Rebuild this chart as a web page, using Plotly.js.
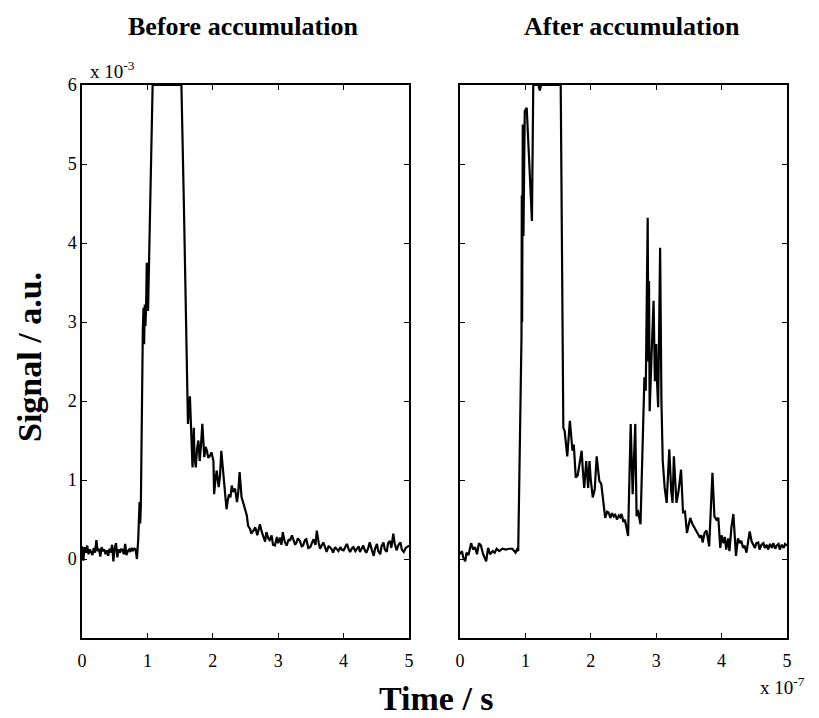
<!DOCTYPE html>
<html>
<head>
<meta charset="utf-8">
<script src="https://cdn.plot.ly/plotly-3.0.1.min.js"></script>
<style>html,body{margin:0;padding:0;background:#fff;}#chart{width:819px;height:718px;}</style>
</head>
<body>
<div id="chart"></div>
<script>
// Time in units of 1e-7 s, signal in units of 1e-3 a.u.
const beforeTime = [0,0.02,0.04,0.06,0.08,0.1,0.12,0.14,0.16,0.18,0.2,0.22,0.24,0.26,0.28,0.3,0.32,0.34,0.36,0.38,0.4,0.42,0.44,0.46,0.48,0.5,0.52,0.54,0.56,0.58,0.6,0.62,0.64,0.66,0.68,0.7,0.72,0.74,0.76,0.78,0.8,0.82,0.84,
0.86,0.88,0.89,0.9,0.93,0.94,0.95,0.96,0.97,0.98,0.99,1.0,1.01,1.08,1.52,
1.56,1.61,1.62,1.65,1.67,1.69,1.71,1.72,1.74,1.76,1.78,1.8,1.82,1.84,1.87,1.89,1.91,1.93,1.96,1.98,2.01,2.02,2.04,2.06,2.09,2.11,2.13,2.16,2.18,2.21,2.23,2.25,2.27,2.29,2.31,2.34,2.37,2.39,2.41,2.44,2.47,2.49,2.52,2.54,2.57,2.59,2.62,2.65,2.68,2.72,2.75,2.77,2.8,2.82,2.85,2.87,2.9,2.92,2.95,2.98,3.0,3.03,3.05,3.07,3.1,3.13,3.16,3.18,3.21,3.23,3.26,3.28,3.3,3.33,3.36,3.38,3.41,3.43,3.46,3.49,3.51,3.54,3.57,3.59,3.62,3.64,3.67,3.69,3.72,3.74,3.77,3.79,3.82,3.84,3.87,3.89,3.92,3.95,3.97,4.0,4.03,4.05,4.08,4.1,4.13,4.15,4.18,4.2,4.23,4.25,4.28,4.3,4.33,4.35,4.38,4.4,4.43,4.46,4.48,4.51,4.53,4.56,4.58,4.61,4.63,4.66,4.68,4.71,4.73,4.76,4.78,4.81,4.84,4.87,4.89,4.92,4.95,4.97,5.0];
const beforeSignal = [0.16,-0.02,0.15,0.08,0.17,0.06,0.12,0.09,0.05,0.14,0.08,0.24,0.1,0.13,0.03,0.15,0.1,0.12,0.06,0.11,0.04,0.13,0.08,0.18,-0.03,0.14,0.2,0.02,0.12,0.08,0.13,0.11,0.06,0.19,0.05,0.1,0.12,0.09,0.14,0.11,0.13,0.12,0.0,
0.25,0.72,0.45,0.68,2.9,3.18,2.72,3.22,2.95,3.18,3.75,3.15,3.14,6,6,
4.4,2.38,1.71,2.06,1.5,1.16,1.66,1.3,1.16,1.4,1.5,1.24,1.45,1.71,1.29,1.42,1.37,1.28,1.31,1.35,1.24,0.82,1.0,1.12,0.91,1.05,1.37,1.08,0.9,0.63,0.75,0.82,0.78,0.93,0.85,0.89,0.72,0.85,1.1,0.78,0.7,0.63,0.55,0.42,0.38,0.32,0.36,0.4,0.3,0.44,0.34,0.3,0.22,0.34,0.26,0.24,0.3,0.18,0.17,0.28,0.2,0.27,0.18,0.34,0.22,0.17,0.25,0.23,0.3,0.25,0.18,0.21,0.26,0.23,0.16,0.17,0.24,0.25,0.14,0.15,0.2,0.25,0.18,0.36,0.2,0.13,0.18,0.21,0.14,0.09,0.16,0.15,0.12,0.08,0.15,0.13,0.1,0.15,0.12,0.11,0.16,0.19,0.12,0.09,0.14,0.15,0.1,0.13,0.16,0.09,0.14,0.17,0.1,0.08,0.15,0.21,0.12,0.04,0.13,0.19,0.1,0.06,0.16,0.21,0.12,0.09,0.2,0.23,0.14,0.32,0.2,0.11,0.18,0.21,0.12,0.09,0.14,0.15,0.17];

const afterTime = [0,0.03,0.05,0.08,0.1,0.13,0.17,0.2,0.23,0.26,0.29,0.32,0.35,0.38,0.4,0.43,0.46,0.5,0.53,0.56,0.6,0.65,0.7,0.75,0.8,0.85,0.87,
0.89,0.92,0.94,0.945,0.95,0.96,0.97,0.99,1.02,1.06,1.1,1.12,1.2,1.22,1.24,1.54,
1.58,1.6,1.64,1.68,1.7,1.72,1.74,1.77,1.8,1.83,1.86,1.88,1.9,1.93,1.96,1.98,2.0,2.03,2.06,2.09,2.11,2.13,2.16,2.19,2.22,2.25,2.27,2.3,2.32,2.35,2.37,2.4,2.43,2.45,2.47,2.5,2.52,2.55,2.57,2.61,2.64,2.68,2.7,2.72,2.74,2.76,2.82,2.84,2.87,2.88,2.89,2.9,2.93,2.96,2.98,3.0,3.01,3.03,3.06,3.08,3.1,3.13,3.16,3.18,3.2,3.23,3.25,3.27,3.31,3.34,3.38,3.41,3.44,3.47,3.5,3.52,3.55,3.57,3.6,3.63,3.67,3.69,3.71,3.74,3.77,3.81,3.86,3.89,3.92,3.95,3.98,4.0,4.03,4.05,4.07,4.1,4.12,4.15,4.18,4.22,4.25,4.28,4.3,4.33,4.35,4.38,4.43,4.46,4.48,4.51,4.53,4.56,4.58,4.61,4.64,4.66,4.69,4.71,4.74,4.77,4.79,4.82,4.84,4.87,4.89,4.92,4.95,4.97,5.0];
const afterSignal = [0.06,0.1,0.02,-0.03,0.08,0.05,0.2,0.12,0.15,0.06,0.2,0.17,0.07,0.02,-0.03,0.14,0.06,0.1,0.08,0.13,0.1,0.13,0.12,0.13,0.13,0.08,0.12,
0.1,1.5,2.8,4.6,3.0,5.5,4.09,5.67,5.71,5.0,4.28,6,6,5.93,6,6,
1.66,1.62,1.3,1.75,1.49,1.37,1.45,1.03,1.06,1.2,1.37,1.1,0.9,1.24,0.9,1.24,1.0,0.78,0.88,1.3,1.15,0.99,0.95,0.73,0.52,0.6,0.59,0.52,0.58,0.54,0.57,0.5,0.55,0.53,0.57,0.47,0.5,0.38,0.29,1.71,0.82,1.71,0.54,0.62,0.5,0.44,2.3,2.13,4.32,2.5,3.52,1.87,2.6,3.27,2.25,2.72,2.3,1.92,3.94,2.0,1.24,0.9,0.71,1.1,1.39,0.86,0.71,1.3,0.71,0.85,1.13,0.59,0.6,0.33,0.45,0.52,0.45,0.42,0.36,0.33,0.27,0.3,0.21,0.33,0.36,0.16,1.09,0.54,0.5,0.52,0.14,0.3,0.2,0.28,0.12,0.26,0.1,0.4,0.57,0.04,0.26,0.2,0.23,0.14,0.17,0.08,0.35,0.22,0.19,0.14,0.2,0.21,0.12,0.18,0.2,0.14,0.18,0.12,0.19,0.14,0.2,0.13,0.17,0.19,0.12,0.18,0.14,0.19,0.17];

const xTicks = [0,1,2,3,4,5];
const yTicks = [0,1,2,3,4,5,6];
const panelTitles = ['Before accumulation','After accumulation'];

const W = 819, H = 718;
const serif = 'Liberation Serif, Times New Roman, serif';
const px = v => v / W;
const py = v => (H - v) / H;

const lineStyle = {color:'#000', width:2.2};
const traces = [
  {x: beforeTime, y: beforeSignal, type:'scatter', mode:'lines', line: lineStyle, xaxis:'x', yaxis:'y', hoverinfo:'skip'},
  {x: afterTime, y: afterSignal, type:'scatter', mode:'lines', line: lineStyle, xaxis:'x2', yaxis:'y2', hoverinfo:'skip'}
];

function xax(domain){
  return {domain: domain, range:[0,5], tickvals: xTicks, ticktext: xTicks.map(String),
    ticks:'inside', ticklen:5, tickwidth:1, tickcolor:'#000', mirror:'ticks',
    showline:true, linecolor:'#000', linewidth:1.6, showgrid:false, zeroline:false,
    tickfont:{family: serif, size:18, color:'#000'}, ticklabelstandoff:6, fixedrange:true};
}
function yax(showLabels, anchor){
  return {domain:[py(638), py(85)], range:[-1,6], tickvals: yTicks, ticktext: yTicks.map(String),
    ticks:'inside', ticklen:5, tickwidth:1, tickcolor:'#000', mirror:'ticks',
    showline:true, linecolor:'#000', linewidth:1.6, showgrid:false, zeroline:false,
    showticklabels: showLabels, anchor: anchor,
    tickfont:{family: serif, size:18, color:'#000'}, fixedrange:true};
}

const layout = {
  width: W, height: H,
  margin:{l:0,r:0,t:0,b:0},
  paper_bgcolor:'#fff', plot_bgcolor:'#fff',
  showlegend:false,
  xaxis: Object.assign(xax([px(82), px(409)]), {anchor:'y'}),
  yaxis: yax(true, 'x'),
  xaxis2: Object.assign(xax([px(460), px(787)]), {anchor:'y2'}),
  yaxis2: yax(false, 'x2'),
  annotations: [
    {text:'<b>'+panelTitles[0]+'</b>', x:px(243), y:py(26), xref:'paper', yref:'paper', showarrow:false, xanchor:'center', yanchor:'middle', font:{family: serif, size:26, color:'#000'}},
    {text:'<b>'+panelTitles[1]+'</b>', x:px(632), y:py(26), xref:'paper', yref:'paper', showarrow:false, xanchor:'center', yanchor:'middle', font:{family: serif, size:26, color:'#000'}},
    {text:'x 10<sup>-3</sup>', x:px(88), y:py(70), xref:'paper', yref:'paper', showarrow:false, xanchor:'left', yanchor:'middle', font:{family: serif, size:19, color:'#000'}},
    {text:'<b>Signal / a.u.</b>', x:px(29), y:py(357), xref:'paper', yref:'paper', showarrow:false, textangle:-90, xanchor:'center', yanchor:'middle', font:{family: serif, size:34, color:'#000'}},
    {text:'<b>Time / s</b>', x:px(436), y:py(698), xref:'paper', yref:'paper', showarrow:false, xanchor:'center', yanchor:'middle', font:{family: serif, size:34, color:'#000'}},
    {text:'x 10<sup>-7</sup>', x:px(758), y:py(686), xref:'paper', yref:'paper', showarrow:false, xanchor:'left', yanchor:'middle', font:{family: serif, size:19, color:'#000'}}
  ]
};

Plotly.newPlot('chart', traces, layout, {staticPlot:true, displayModeBar:false});
</script>
</body>
</html>
